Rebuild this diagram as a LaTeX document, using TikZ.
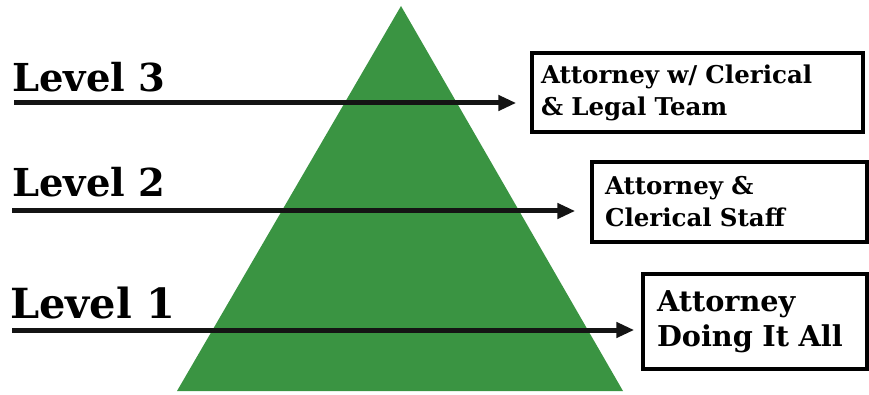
\documentclass[tikz,border=0pt]{standalone}
\usepackage{fontspec}
\setmainfont{DejaVu Serif}
\usetikzlibrary{arrows.meta}
\definecolor{pyrgreen}{RGB}{58,148,66}
\tikzset{
  lvl/.style={anchor=base west, inner sep=0pt, font=\bfseries},
  lvlbox/.style={draw=black, line width=3.5pt, fill=white, align=left, inner xsep=9pt, inner ysep=0pt, font=\bfseries},
  lvlarrow/.style={line width=5pt, draw=black!92, -{Triangle[length=18pt,width=15pt]}},
}
\begin{document}
\begin{tikzpicture}[x=1pt,y=-1pt]
\useasboundingbox (0,0) rectangle (869,395);
\fill[pyrgreen] (401,6) -- (623,391) -- (177,391) -- cycle;
\node[lvl, font=\bfseries\fontsize{38.5}{38}\selectfont] (l3) at (12,92) {Level 3};
\node[lvl, font=\bfseries\fontsize{38.5}{38}\selectfont] (l2) at (12,197) {Level 2};
\node[lvl, font=\bfseries\fontsize{41.5}{41}\selectfont] (l1) at (10,318) {Level 1};
\node[lvlbox, minimum width=331, minimum height=79, text width=313, font=\bfseries\fontsize{24.5}{32}\selectfont] (b3) at (697.5,92.5) {Attorney w/ Clerical\\\& Legal Team};
\node[lvlbox, minimum width=275, minimum height=80, text width=249, inner xsep=13pt, font=\bfseries\fontsize{24.5}{32}\selectfont] (b2) at (729.5,202) {Attorney \&\\Clerical Staff};
\node[lvlbox, minimum width=224, minimum height=95, text width=196, inner xsep=14pt, font=\bfseries\fontsize{28.7}{35}\selectfont] (b1) at (755,321.5) {Attorney\\Doing It All};
\coordinate (s3) at (14,103);
\coordinate (s2) at (12,211);
\coordinate (s1) at (12,330);
\draw[lvlarrow, shorten >=14pt] (s3) -- (s3 -| b3.west);
\draw[lvlarrow, shorten >=15pt] (s2) -- (s2 -| b2.west);
\draw[lvlarrow, shorten >=7pt] (s1) -- (s1 -| b1.west);
\end{tikzpicture}
\end{document}
